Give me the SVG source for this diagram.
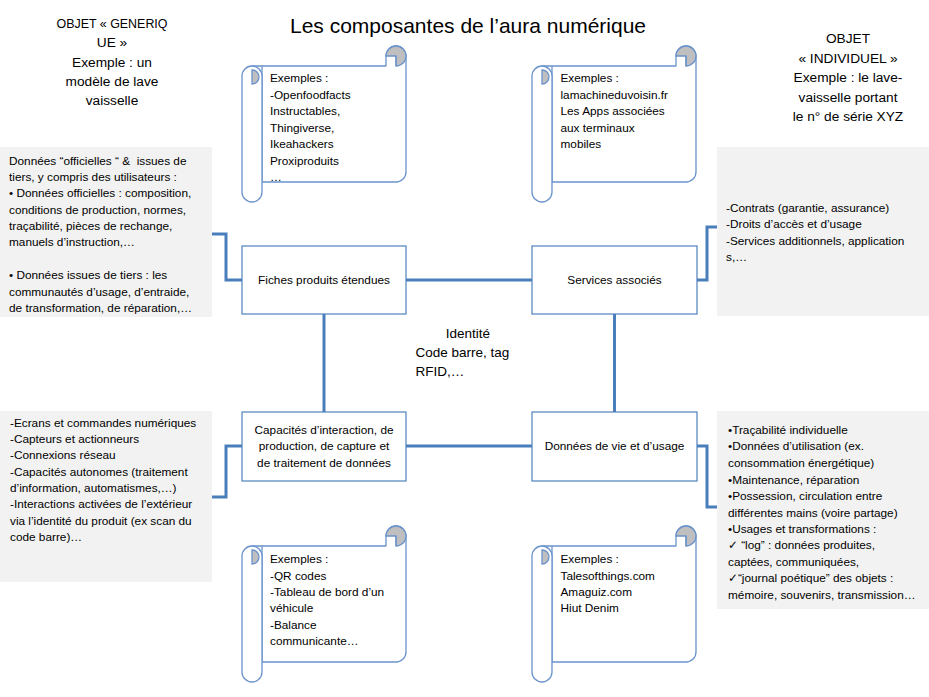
<svg xmlns="http://www.w3.org/2000/svg" xmlns:xlink="http://www.w3.org/1999/xlink" width="929" height="697" viewBox="0 0 929 697">
<style>
text{font-family:"Liberation Sans",Arial,"DejaVu Sans",sans-serif;fill:#000}
.t{font-size:11.8px}
.h{font-size:13.7px}
.box{fill:#fff;stroke:#4f81bd;stroke-width:1.2}
.note{fill:#f2f2f2}
.conn{fill:none;stroke:#4a7ebb;stroke-width:3}
.sc{fill:#fff;stroke:#6a93cc;stroke-width:1.3;stroke-linejoin:round}
.scg{fill:#bfbfbf;stroke:#6a93cc;stroke-width:1.3}
.scl{fill:none;stroke:#6a93cc;stroke-width:1.3}
</style>
<defs>
<g id="scroll">
<path class="sc" d="M10,20 H144 V10 A10,10 0 0 1 164,10 V126 A10,10 0 0 1 154,136 H20 V20 Z"/>
<path class="scg" d="M144,10 A10,10 0 1 1 154,20 V10 Z"/>
<path class="scl" d="M154,10 V20"/>
<path class="sc" d="M0,30 A10,10 0 0 1 20,30 V146 A10,10 0 0 1 0,146 Z"/>
<path class="scg" d="M10,24 A7,7 0 0 1 10,38 Z"/>
</g>
</defs>
<rect width="929" height="697" fill="#fff"/>

<g id="title"><text x="468" y="33" font-size="21px" text-anchor="middle">Les composantes de l’aura numérique</text></g>

<g id="objet-generique">
<text text-anchor="middle" class="h"><tspan x="112" y="28" textLength="111" lengthAdjust="spacingAndGlyphs">OBJET « GENERIQ</tspan><tspan x="112" y="47">UE »</tspan><tspan x="112" y="66.5">Exemple : un</tspan><tspan x="112" y="86">modèle de lave</tspan><tspan x="112" y="105">vaisselle</tspan></text>
</g>

<g id="objet-individuel">
<text text-anchor="middle" class="h"><tspan x="848" y="42.5">OBJET</tspan><tspan x="848" y="63">« INDIVIDUEL »</tspan><tspan x="848" y="82">Exemple : le lave-</tspan><tspan x="848" y="101.5">vaisselle portant</tspan><tspan x="848" y="120.5">le n° de série XYZ</tspan></text>
</g>

<g id="connectors">
<path class="conn" d="M406,280 H532"/>
<path class="conn" d="M406,446 H532"/>
<path class="conn" d="M324,314 V412"/>
<path class="conn" d="M614.5,314 V412"/>
<path class="conn" d="M212,234 H226 V280 H242"/>
<path class="conn" d="M697,280 H707 V227 H717"/>
<path class="conn" d="M212,497 H226 V446 H242"/>
<path class="conn" d="M697,446 H707 V507 H717"/>
</g>

<g id="scroll-top-left">
<use xlink:href="#scroll" href="#scroll" transform="translate(242,46)"/>
<text class="t"><tspan x="270" y="82">Exemples :</tspan><tspan x="270" y="98.5">-Openfoodfacts</tspan><tspan x="270" y="115">Instructables,</tspan><tspan x="270" y="131.5">Thingiverse,</tspan><tspan x="270" y="148">Ikeahackers</tspan><tspan x="270" y="164.5">Proxiproduits</tspan><tspan x="270" y="181">…</tspan></text>
</g>

<g id="scroll-top-right">
<use xlink:href="#scroll" href="#scroll" transform="translate(532,46)"/>
<text class="t"><tspan x="560.5" y="82">Exemples :</tspan><tspan x="560.5" y="98.5">lamachineduvoisin.fr</tspan><tspan x="560.5" y="115">Les Apps associées</tspan><tspan x="560.5" y="131.5">aux terminaux</tspan><tspan x="560.5" y="148">mobiles</tspan></text>
</g>

<g id="scroll-bottom-left">
<use xlink:href="#scroll" href="#scroll" transform="translate(242,526)"/>
<text class="t"><tspan x="270" y="563">Exemples :</tspan><tspan x="270" y="579.5">-QR codes</tspan><tspan x="270" y="596">-Tableau de bord d’un</tspan><tspan x="270" y="612">véhicule</tspan><tspan x="270" y="628.5">-Balance</tspan><tspan x="270" y="645">communicante…</tspan></text>
</g>

<g id="scroll-bottom-right">
<use xlink:href="#scroll" href="#scroll" transform="translate(532,526)"/>
<text class="t"><tspan x="560.5" y="563">Exemples :</tspan><tspan x="560.5" y="579.5">Talesofthings.com</tspan><tspan x="560.5" y="596">Amaguiz.com</tspan><tspan x="560.5" y="612">Hiut Denim</tspan></text>
</g>

<g id="note-fiches">
<rect class="note" x="0" y="147" width="212" height="170"/>
<text class="t"><tspan x="9" y="165" style="white-space:pre">Données “officielles “ &amp;  issues de</tspan><tspan x="9" y="181">tiers, y compris des utilisateurs :</tspan><tspan x="9" y="197">• Données officielles : composition,</tspan><tspan x="9" y="213.5">conditions de production, normes,</tspan><tspan x="9" y="229.5">traçabilité, pièces de rechange,</tspan><tspan x="9" y="246">manuels d’instruction,…</tspan><tspan x="9" y="279">• Données issues de tiers : les</tspan><tspan x="9" y="295.5">communautés d’usage, d’entraide,</tspan><tspan x="9" y="311.5">de transformation, de réparation,…</tspan></text>
</g>

<g id="note-services">
<rect class="note" x="717" y="147" width="212" height="169"/>
<text class="t"><tspan x="726" y="212">-Contrats (garantie, assurance)</tspan><tspan x="726" y="228">-Droits d’accès et d’usage</tspan><tspan x="726" y="244.5">-Services additionnels, application</tspan><tspan x="726" y="261">s,…</tspan></text>
</g>

<g id="note-capacites">
<rect class="note" x="0" y="411" width="212" height="171"/>
<text class="t"><tspan x="10" y="426.5">-Ecrans et commandes numériques</tspan><tspan x="10" y="443">-Capteurs et actionneurs</tspan><tspan x="10" y="459">-Connexions réseau</tspan><tspan x="10" y="475.5">-Capacités autonomes (traitement</tspan><tspan x="10" y="492">d’information, automatismes,…)</tspan><tspan x="10" y="508">-Interactions activées de l’extérieur</tspan><tspan x="10" y="524.5">via l’identité du produit (ex scan du</tspan><tspan x="10" y="541">code barre)…</tspan></text>
</g>

<g id="note-donnees">
<rect class="note" x="717" y="411" width="212" height="198"/>
<text class="t"><tspan x="728" y="433.5">•Traçabilité individuelle</tspan><tspan x="728" y="450">•Données d’utilisation (ex.</tspan><tspan x="728" y="467">consommation énergétique)</tspan><tspan x="728" y="483.5">•Maintenance, réparation</tspan><tspan x="728" y="500">•Possession, circulation entre</tspan><tspan x="728" y="516.5">différentes mains (voire partage)</tspan><tspan x="728" y="532.5">•Usages et transformations :</tspan><tspan x="728" y="549">✓ “log” : données produites,</tspan><tspan x="728" y="565.5">captées, communiquées,</tspan><tspan x="728" y="582">✓“journal poétique” des objets :</tspan><tspan x="728" y="598.5">mémoire, souvenirs, transmission…</tspan></text>
</g>

<g id="fiches-produits">
<rect class="box" x="242" y="246" width="164" height="68"/>
<text class="t" x="324" y="284" text-anchor="middle">Fiches produits étendues</text>
</g>

<g id="services-associes">
<rect class="box" x="532" y="246" width="165" height="68"/>
<text class="t" x="614.5" y="284" text-anchor="middle">Services associés</text>
</g>

<g id="capacites">
<rect class="box" x="242" y="412" width="164" height="69"/>
<text class="t" text-anchor="middle"><tspan x="324" y="433.5">Capacités d’interaction, de</tspan><tspan x="324" y="450">production, de capture et</tspan><tspan x="324" y="466.5">de traitement de données</tspan></text>
</g>

<g id="donnees-vie">
<rect class="box" x="532" y="412" width="165" height="69"/>
<text class="t" x="614.5" y="450" text-anchor="middle">Données de vie et d’usage</text>
</g>

<g id="identite">
<text font-size="13.5px"><tspan x="468" y="337.5" text-anchor="middle">Identité</tspan><tspan x="415.5" y="357">Code barre, tag</tspan><tspan x="415.5" y="376">RFID,…</tspan></text>
</g>
</svg>
